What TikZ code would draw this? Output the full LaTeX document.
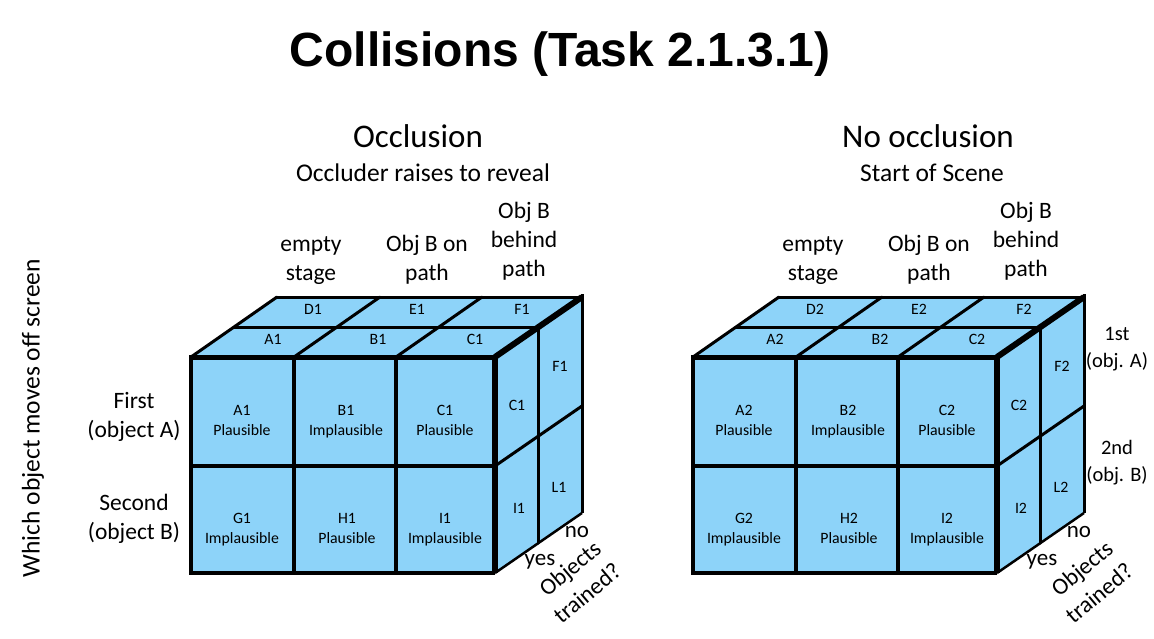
\documentclass[tikz,border=0pt]{standalone}
\usepackage{fontspec}
\setmainfont{Carlito}
\newfontfamily\titlefont{Liberation Sans}
\definecolor{cubeblue}{RGB}{141,211,249}
\begin{document}
\begin{tikzpicture}[x=1pt,y=-1pt,
  ln/.style={line width=3pt, line cap=round},
  cell/.style={inner sep=0pt, align=center, font=\fontsize{15.8}{20}\selectfont},
  lab/.style={inner sep=0pt, align=center, font=\fontsize{23.5}{29}\selectfont},
  sidelab/.style={inner sep=0pt, align=center, font=\fontsize{20.5}{27}\selectfont},
  axw/.style={inner sep=0pt, anchor=base, font=\fontsize{23}{28}\selectfont},
  rotw/.style={inner sep=0pt, rotate=40, font=\fontsize{23.5}{28}\selectfont},
  head/.style={inner sep=0pt, font=\fontsize{33}{40}\selectfont},
  subhead/.style={inner sep=0pt, font=\fontsize{25.5}{30}\selectfont}]
\useasboundingbox (0,0) rectangle (1154,639);
\fill[white] (0,0) rectangle (1154,639);

\node[inner sep=0pt, font=\titlefont\bfseries\fontsize{48}{56}\selectfont] (title) at (560,54) {Collisions (Task 2.1.3.1)};

\node[inner sep=0pt, rotate=90, font=\fontsize{25.5}{30}\selectfont] (ylab) at (33,418) {Which object moves off screen};
\node[lab] (first) at (134,417) {First\strut\\(object A)\strut};
\node[lab] (second) at (134,519) {Second\strut\\(object B)\strut};
\node[sidelab] (firstr) at (1117,349) {1st\strut\\(obj. A)\strut};
\node[sidelab] (secondr) at (1117,463) {2nd\strut\\(obj. B)\strut};

\node[head] (occ) at (418,136) {Occlusion};
\node[subhead] (occsub) at (423,173) {Occluder raises to reveal};
\node[head] (nocc) at (928,136) {No occlusion};
\node[subhead] (noccsub) at (932,173) {Start of Scene};

\foreach \s/\n in {0/1,502/2}{
\begin{scope}[xshift=\s pt]
  \fill[cubeblue] (191,357) rectangle (495,573);
  \fill[cubeblue] (191,357) -- (277,297) -- (582,297) -- (495,357) -- cycle;
  \fill[cubeblue] (495,357) -- (582,297) -- (582,513) -- (495,573) -- cycle;
  % top face
  \draw[ln] (277,297) -- (582,297);
  \draw[ln] (191,357) -- (277,297);
  \draw[ln] (234,327) -- (538,327);
  \draw[ln] (294,357) -- (380,297);
  \draw[ln] (396,357) -- (482,297);
  % right face
  \draw[line width=3pt] (582,294) -- (582,513);
  \draw[ln] (538,327) -- (538,543);
  \draw[ln] (495,466) -- (582,406);
  \draw[line width=2.5pt] (495,573) -- (582,513);
  % front face
  \draw[line width=3.5pt] (294,357) -- (294,573);
  \draw[line width=3.5pt] (396,357) -- (396,573);
  \draw[line width=3.5pt] (191,466) -- (495,466);
  \draw[line width=4pt, line join=miter] (495,573) -- (191,573) -- (191,357) -- (495,357);
  \draw[line width=5pt] (191,357) -- (495,357);
  \draw[line width=6pt] (495,357) -- (582,297);
  \draw[line width=5.5pt, line cap=square] (495,357) -- (495,573);
  % labels top
  \node[cell] (A\n t) at (273,339) {A\n};
  \node[cell] (B\n t) at (378,339) {B\n};
  \node[cell] (C\n t) at (475,339) {C\n};
  \node[cell] (D\n t) at (313,309) {D\n};
  \node[cell] (E\n t) at (417,309) {E\n};
  \node[cell] (F\n t) at (522,309) {F\n};
  % labels side
  \node[cell] (C\n s) at (517,405) {C\n};
  \node[cell] (F\n s) at (560,366) {F\n};
  \node[cell] (I\n s) at (519,508) {I\n};
  \node[cell] (L\n s) at (559,487) {L\n};
  % labels front
  \node[cell] (A\n f) at (242,421) {A\n\strut\\Plausible\strut};
  \node[cell] (B\n f) at (346,421) {B\n\strut\\Implausible\strut};
  \node[cell] (C\n f) at (445,421) {C\n\strut\\Plausible\strut};
  \node[cell] (G\n f) at (242,529) {G\n\strut\\Implausible\strut};
  \node[cell] (H\n f) at (347,529) {H\n\strut\\Plausible\strut};
  \node[cell] (I\n f) at (445,529) {I\n\strut\\Implausible\strut};
  % column heads
  \node[lab] (empty\n) at (311,260) {empty\strut\\stage\strut};
  \node[lab] (onpath\n) at (427,260) {Obj B on\strut\\path\strut};
  \node[lab] (behind\n) at (524,241.5) {Obj B\strut\\behind\\path\strut};
  % axis words
  \node[axw] (yes\n) at (540,565) {yes};
  \node[axw] (no\n) at (577,537) {no};
\end{scope}
}
\node[rotw] (objA) at (571,570) {Objects};
\node[rotw] (trA) at (587,593) {trained?};
\node[rotw] (objB) at (1083,570) {Objects};
\node[rotw] (trB) at (1099,593) {trained?};
\end{tikzpicture}
\end{document}
